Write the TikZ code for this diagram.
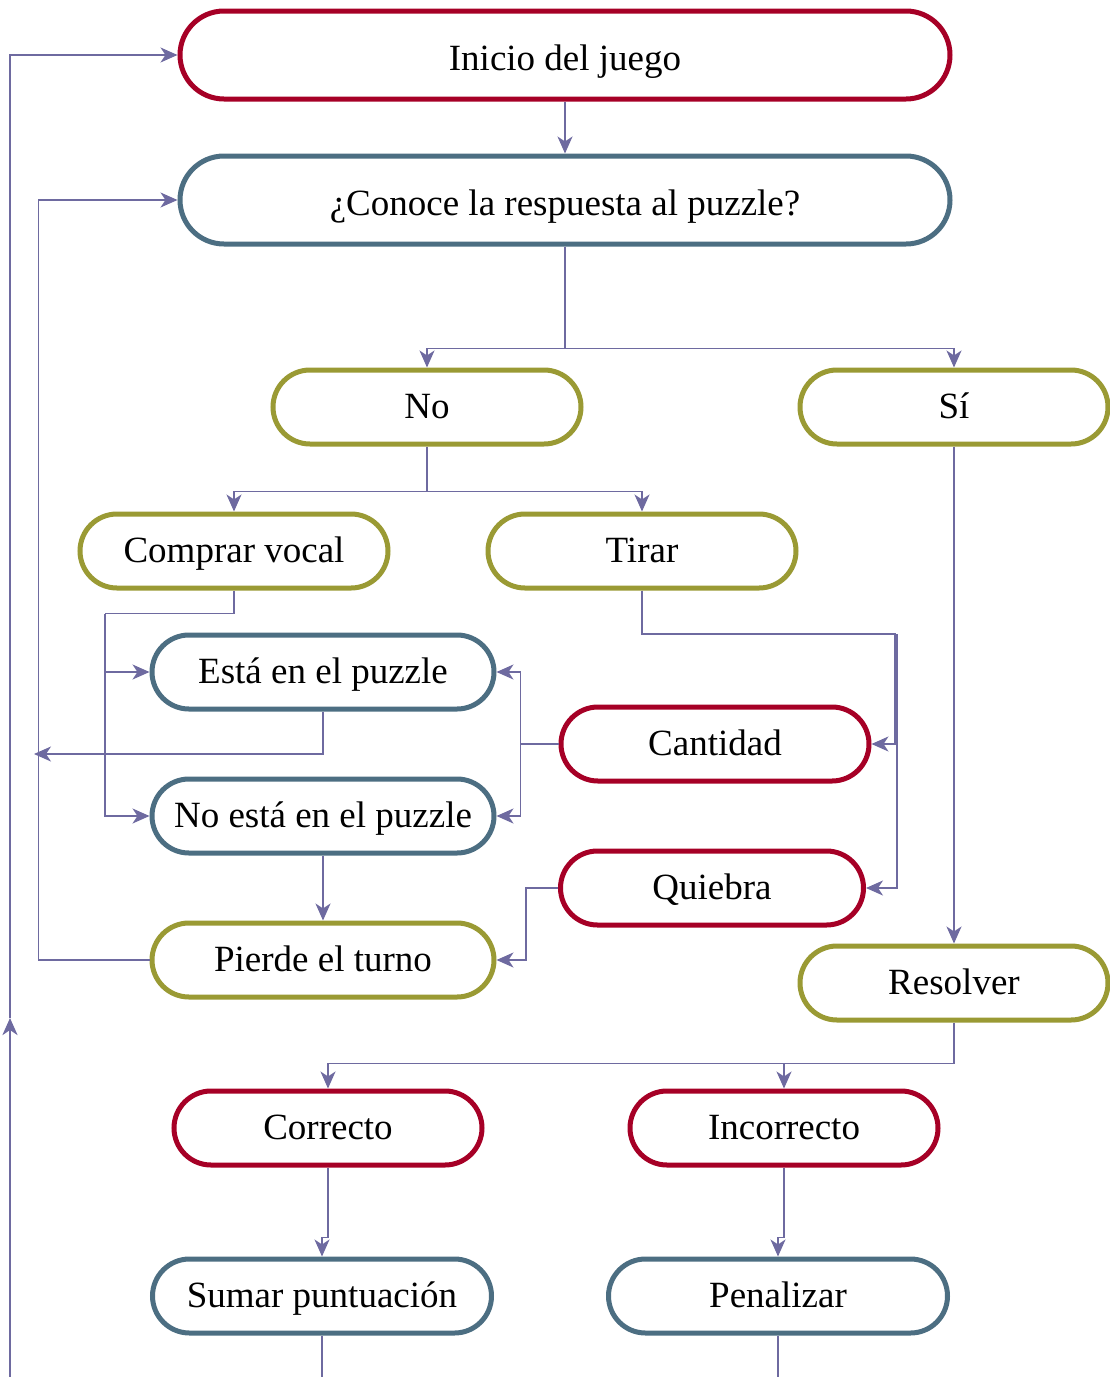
\documentclass[tikz,border=0pt]{standalone}
\usepackage{fontspec}
\setmainfont{Liberation Serif}
\usetikzlibrary{arrows.meta,shapes.misc}
\definecolor{cred}{RGB}{166,0,38}
\definecolor{cblue}{RGB}{76,110,130}
\definecolor{colive}{RGB}{154,154,52}
\definecolor{cline}{RGB}{110,106,160}
\begin{document}
\begin{tikzpicture}[x=1pt,y=-1pt,
  box/.style={rounded rectangle, draw, line width=5pt, fill=white, inner sep=0pt,
    font=\fontsize{37}{44}\selectfont, text height=30pt, text depth=8pt},
  bigbox/.style={box, minimum width=770pt, minimum height=88pt, text height=36pt, text depth=5pt},
  smallbox/.style={box, minimum width=308pt, minimum height=74pt},
  midbox/.style={box, minimum width=342pt, minimum height=74pt},
  rbox/.style={draw=cred},
  bbox/.style={draw=cblue},
  obox/.style={draw=colive},
  conn/.style={draw=cline, line width=1.8pt},
  arr/.style={conn, -{Stealth[length=17pt,width=15pt,inset=5pt]}},
]
\useasboundingbox (0,0) rectangle (1110,1377);

\node[bigbox, rbox] (inicio) at (565,55) {Inicio del juego};
\node[bigbox, bbox] (conoce) at (565,200) {¿Conoce la respuesta al puzzle?};
\node[smallbox, obox] (no) at (427,407) {No};
\node[smallbox, obox] (si) at (954,407) {Sí};
\node[smallbox, obox] (comprar) at (234,551) {Comprar vocal};
\node[smallbox, obox] (tirar) at (642,551) {Tirar};
\node[midbox, bbox] (esta) at (323,672) {Está en el puzzle};
\node[smallbox, rbox] (cantidad) at (715,744) {Cantidad};
\node[midbox, bbox] (noesta) at (323,816) {No está en el puzzle};
\node[smallbox, rbox, minimum width=303pt] (quiebra) at (712,888) {Quiebra};
\node[midbox, obox] (pierde) at (323,960) {Pierde el turno};
\node[smallbox, obox] (resolver) at (954,983) {Resolver};
\node[smallbox, rbox] (correcto) at (328,1128) {Correcto};
\node[smallbox, rbox] (incorrecto) at (784,1128) {Incorrecto};
\node[midbox, bbox, minimum width=339pt] (sumar) at (322,1296) {Sumar puntuación};
\node[midbox, bbox, minimum width=339pt] (penalizar) at (778,1296) {Penalizar};

\coordinate (bot) at (10,1377);
\coordinate (lmid) at (10,1018);
\coordinate (reta) at (34,754);

% top
\draw[arr] (inicio.south) -- (conoce.north);
\draw[conn] (conoce.south) -- ++(0,102) coordinate (cj);
\draw[arr] (cj) -| (no.north);
\draw[arr] (cj) -| (si.north);
% No
\draw[conn] (no.south) -- ++(0,45) coordinate (nj);
\draw[arr] (nj) -| (comprar.north);
\draw[arr] (nj) -| (tirar.north);
% Comprar vocal
\draw[conn] (comprar.south) -- ++(0,23) -- ++(-129,0) coordinate (vj);
\draw[arr] (vj) |- (esta.west);
\draw[arr] (vj) |- (noesta.west);
% Tirar
\draw[arr] (tirar.south) -- ++(0,43) -- ++(253,0) |- (cantidad.east);
\draw[arr] (tirar.south) -- ++(0,44) -- ++(255,0) |- (quiebra.east);
% Cantidad
\draw[conn] (cantidad.west) -- ++(-38,0) coordinate (kj);
\draw[arr] (kj) |- (esta.east);
\draw[arr] (kj) |- (noesta.east);
% Esta
\draw[arr] (esta.south) |- (reta);
% No esta
\draw[arr] (noesta.south) -- (pierde.north);
% Quiebra
\draw[arr] (quiebra.west) -- ++(-32,0) |- (pierde.east);
% Pierde
\draw[arr] (pierde.west) -- ++(-111,0) |- (conoce.west);
% Si
\draw[arr] (si.south) -- (resolver.north);
% Resolver
\draw[conn] (resolver.south) -- ++(0,41) coordinate (rj);
\draw[arr] (rj) -| (correcto.north);
\draw[arr] (rj) -| (incorrecto.north);
% Correcto / Incorrecto
\draw[arr] (correcto.south) -- ++(0,70) -| (sumar.north);
\draw[arr] (incorrecto.south) -- ++(0,70) -| (penalizar.north);
% bottom
\draw[conn] (sumar.south) -- (sumar.south |- bot);
\draw[conn] (penalizar.south) -- (penalizar.south |- bot);
\draw[arr, line width=2.8pt] (bot) -- (lmid);
\draw[arr] (lmid) |- (inicio.west);
\end{tikzpicture}
\end{document}
